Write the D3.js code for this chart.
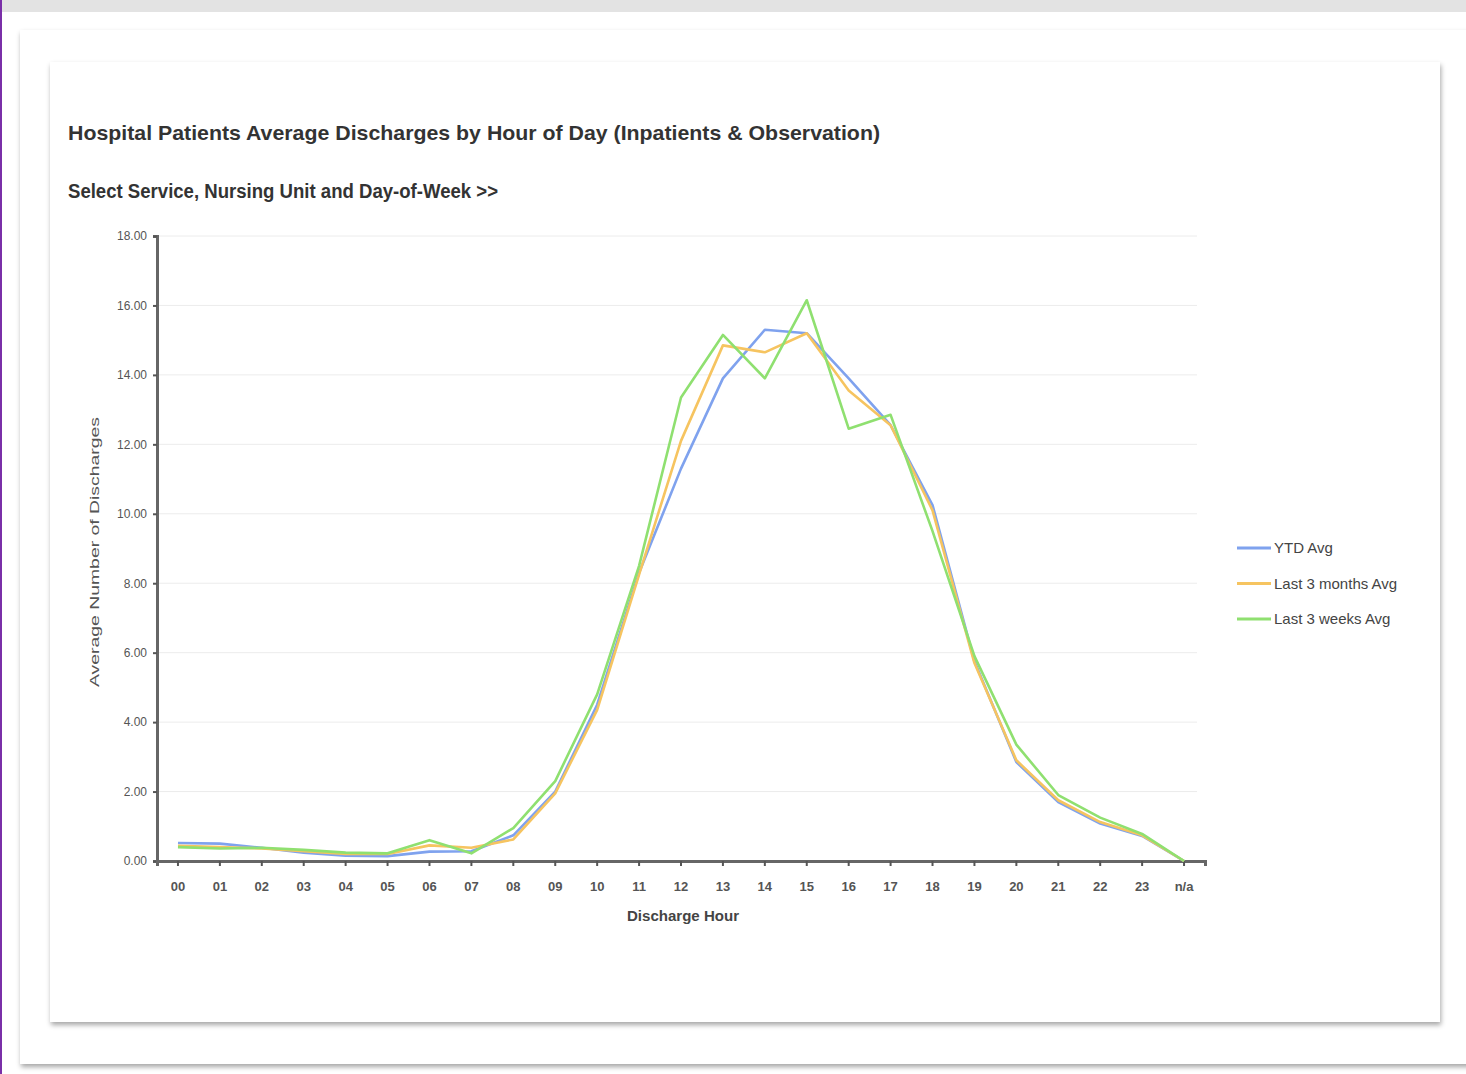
<!DOCTYPE html>
<html>
<head>
<meta charset="utf-8">
<script src="https://cdn.jsdelivr.net/npm/d3@7"></script>
<style>
  body { margin: 0; background: #ffffff; }
  svg { display: block; }
</style>
</head>
<body>
<svg width="1466" height="1074"></svg>
<script>
'use strict';
const hours = ['00','01','02','03','04','05','06','07','08','09','10','11','12',
  '13','14','15','16','17','18','19','20','21','22','23','n/a'];
const ytd_avg = [0.52,0.50,0.38,0.24,0.15,0.14,0.27,0.28,0.74,2.00,4.50,8.30,11.30,
  13.90,15.30,15.20,13.90,12.55,10.25,5.75,2.85,1.70,1.08,0.72,0.00];
const months_avg = [0.44,0.40,0.36,0.28,0.20,0.20,0.45,0.38,0.62,1.95,4.35,8.25,12.10,
  14.85,14.65,15.20,13.55,12.55,10.10,5.70,2.90,1.75,1.12,0.74,0.00];
const weeks_avg = [0.40,0.36,0.38,0.32,0.24,0.22,0.60,0.22,0.95,2.30,4.80,8.50,13.35,
  15.15,13.90,16.15,12.45,12.85,9.50,5.90,3.35,1.90,1.25,0.78,0.00];
const y_ticks = [0,2,4,6,8,10,12,14,16,18];
const series_names = ['YTD Avg','Last 3 months Avg','Last 3 weeks Avg'];
const series_values = [ytd_avg, months_avg, weeks_avg];
const series_colors = ['#7fa2ee','#f6c460','#8fe070'];

const svg = d3.select('svg');
const font = '"Liberation Sans Narrow", "Arial Narrow", "Liberation Sans", sans-serif';

// page background + cards
svg.append('rect').attr('x', 0).attr('y', 0).attr('width', 1466).attr('height', 12).attr('fill', '#e3e3e3');
svg.append('rect').attr('x', 0).attr('y', 0).attr('width', 2).attr('height', 1074).attr('fill', '#7a2fa8');

const defs = svg.append('defs');
const shadow = defs.append('filter').attr('id', 'shadow').attr('x', '-5%').attr('y', '-5%').attr('width', '110%').attr('height', '110%');
shadow.append('feDropShadow').attr('dx', 1).attr('dy', 3).attr('stdDeviation', 2.5).attr('flood-color', '#000').attr('flood-opacity', 0.35);

svg.append('rect').attr('x', 20).attr('y', 30).attr('width', 1470).attr('height', 1034)
  .attr('fill', '#fff').attr('filter', 'url(#shadow)');
svg.append('rect').attr('x', 50).attr('y', 62).attr('width', 1390).attr('height', 960)
  .attr('fill', '#fff').attr('filter', 'url(#shadow)');

// titles (condensed look)
svg.append('text').attr('x', 68).attr('y', 140)
  .attr('font-family', font).attr('font-weight', 'bold').attr('font-size', 21)
  .attr('fill', '#333').attr('textLength', 812).attr('lengthAdjust', 'spacingAndGlyphs')
  .text('Hospital Patients Average Discharges by Hour of Day (Inpatients & Observation)');
svg.append('text').attr('x', 68).attr('y', 198)
  .attr('font-family', font).attr('font-weight', 'bold').attr('font-size', 20)
  .attr('fill', '#333').attr('textLength', 430).attr('lengthAdjust', 'spacingAndGlyphs')
  .text('Select Service, Nursing Unit and Day-of-Week >>');

// scales
const x_scale = d3.scaleBand().domain(hours).range([157, 1205]);
const y_scale = d3.scaleLinear().domain([0, 18]).range([861, 236]);
const xc = d => x_scale(d) + x_scale.bandwidth() / 2;

// gridlines
svg.append('g').selectAll('line').data(y_ticks.slice(1)).enter().append('line')
  .attr('x1', 157).attr('x2', 1197)
  .attr('y1', d => y_scale(d)).attr('y2', d => y_scale(d))
  .attr('stroke', '#ececec').attr('stroke-width', 1);

// left axis
const y_axis = svg.append('g').attr('transform', 'translate(157,0)')
  .call(d3.axisLeft(y_scale).tickValues(y_ticks).tickFormat(d3.format('.2f')).tickSize(4).tickPadding(6));
y_axis.select('.domain').attr('stroke', '#666').attr('stroke-width', 3);
y_axis.selectAll('.tick line').attr('stroke', '#555').attr('stroke-width', 2);
y_axis.selectAll('.tick text').attr('font-family', font).attr('font-size', 12).attr('fill', '#555');

// bottom axis
const x_axis = svg.append('g').attr('transform', 'translate(0,861)')
  .call(d3.axisBottom(x_scale).tickSize(5).tickPadding(16));
x_axis.select('.domain').attr('stroke', '#666').attr('stroke-width', 3);
x_axis.selectAll('.tick line').attr('stroke', '#555').attr('stroke-width', 2);
x_axis.selectAll('.tick text').attr('font-family', font).attr('font-size', 13).attr('font-weight', 'bold').attr('fill', '#555');

// axis titles
svg.append('text').attr('transform', 'translate(99,552) rotate(-90)')
  .attr('text-anchor', 'middle').attr('font-family', font).attr('font-size', 12)
  .attr('fill', '#555').attr('textLength', 270).attr('lengthAdjust', 'spacingAndGlyphs')
  .text('Average Number of Discharges');
svg.append('text').attr('x', 683).attr('y', 921)
  .attr('text-anchor', 'middle').attr('font-family', font).attr('font-size', 14).attr('font-weight', 'bold')
  .attr('fill', '#444').attr('textLength', 112).attr('lengthAdjust', 'spacingAndGlyphs')
  .text('Discharge Hour');

// lines
const line = d3.line().x((d, i) => xc(hours[i])).y(d => y_scale(d));
svg.append('g').selectAll('path').data(series_values).enter().append('path')
  .attr('d', line)
  .attr('fill', 'none')
  .attr('stroke', (d, i) => series_colors[i])
  .attr('stroke-width', 2.6)
  .attr('stroke-linejoin', 'round');

// legend
const legend = svg.append('g').selectAll('g').data(series_names).enter().append('g')
  .attr('transform', (d, i) => `translate(1237,${548 + i * 35.5})`);
legend.append('line').attr('x1', 0).attr('x2', 34)
  .attr('stroke', (d, i) => series_colors[i]).attr('stroke-width', 3);
legend.append('text').attr('x', 37).attr('dy', '0.35em')
  .attr('font-family', font).attr('font-size', 15).attr('fill', '#444')
  .text(d => d);
</script>
</body>
</html>
